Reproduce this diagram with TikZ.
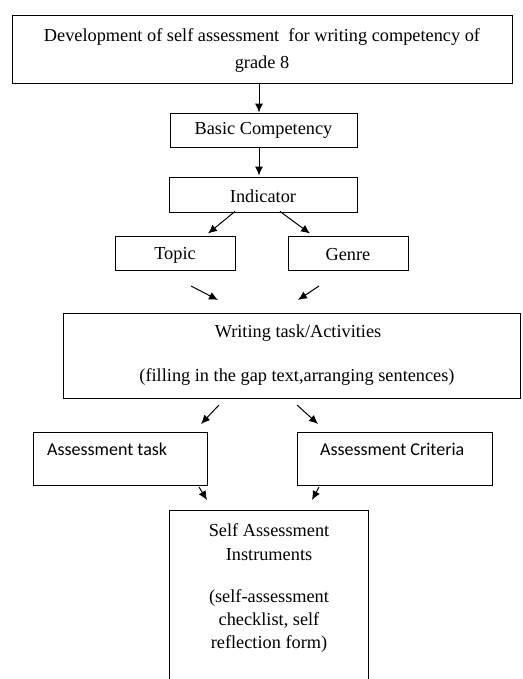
\documentclass[tikz,border=0pt]{standalone}
\usepackage{fontspec}
\setmainfont{Liberation Serif}
\newfontfamily\calib{Carlito}
\usetikzlibrary{arrows.meta}
\begin{document}
\begin{tikzpicture}[x=1pt,y=-1pt,
  box/.style={draw,line width=0.9pt,inner sep=0pt,anchor=center},
  txt/.style={inner sep=0pt,align=center,font=\fontsize{18.3}{27}\selectfont},
  ctxt/.style={inner sep=0pt,font=\calib\fontsize{18}{22}\selectfont},
  arr/.style={line width=1pt,-{Latex[length=9pt,width=8pt]}}]
\useasboundingbox (0,0) rectangle (522,679);
% boxes
\node[box,minimum width=500,minimum height=68] (top) at (262,49) {};
\node[txt] (toptxt) at (262,50.5) {Development of self assessment\ \ for writing competency of\\grade 8};
\node[box,minimum width=187,minimum height=34] (basic) at (263.5,130) {};
\node[txt] (basictxt) at (263.5,130) {Basic Competency};
\node[box,minimum width=188,minimum height=35] (ind) at (263,194.5) {};
\node[txt] (indtxt) at (263,196) {Indicator};
\node[box,minimum width=120,minimum height=34] (topic) at (175,253) {};
\node[txt] (topictxt) at (175,255) {Topic};
\node[box,minimum width=120,minimum height=34] (genre) at (348,253) {};
\node[txt] (genretxt) at (348,255) {Genre};
\node[box,minimum width=457,minimum height=85] (writing) at (292,355.5) {};
\node[txt] (wtxt1) at (298,333) {Writing task/Activities};
\node[txt] (wtxt2) at (297,377) {(filling in the gap text,arranging sentences)};
\node[box,minimum width=174,minimum height=53] (atask) at (120,458.5) {};
\node[ctxt,anchor=west] (ataskt) at (47,449) {Assessment task};
\node[box,minimum width=195,minimum height=53] (acrit) at (394.5,458.5) {};
\node[ctxt,anchor=west] (acritt) at (320,449) {Assessment Criteria};
\node[box,minimum width=199,minimum height=200,anchor=north] (self) at (268.5,510) {};
\node[txt,font=\fontsize{18.3}{24}\selectfont] (selft1) at (269,542) {Self Assessment\\Instruments};
\node[txt,font=\fontsize{18.3}{23}\selectfont] (selft2) at (269,621) {(self-assessment\\checklist, self\\reflection form)};
% connectors
\draw[arr] ([xshift=-4.5pt]basic.north |- top.south) -- ([xshift=-4.5pt]basic.north);
\draw[arr] ([xshift=-4.5pt]basic.south) -- ([xshift=-4pt,yshift=1pt]ind.north);
\draw[arr] ([xshift=-28pt,yshift=1pt]ind.south) -- ([xshift=33pt,yshift=2pt]topic.north);
\draw[arr] ([xshift=17pt,yshift=1pt]ind.south) -- ([xshift=-38pt,yshift=2pt]genre.north);
\coordinate (f1s) at (191,286); \coordinate (f1e) at (218,300);
\coordinate (f2s) at (319,286); \coordinate (f2e) at (298,300);
\draw[arr] (f1s) -- (f1e);
\draw[arr] (f2s) -- (f2e);
\coordinate (g1s) at (219,405); \coordinate (g1e) at (201,424);
\coordinate (g2s) at (297,405); \coordinate (g2e) at (318,424);
\draw[arr] (g1s) -- (g1e);
\draw[arr] (g2s) -- (g2e);
\coordinate (h1s) at (199,487); \coordinate (h1e) at (207,500);
\coordinate (h2s) at (319,487); \coordinate (h2e) at (312,500);
\draw[arr] (h1s) -- (h1e);
\draw[arr] (h2s) -- (h2e);
\end{tikzpicture}
\end{document}
